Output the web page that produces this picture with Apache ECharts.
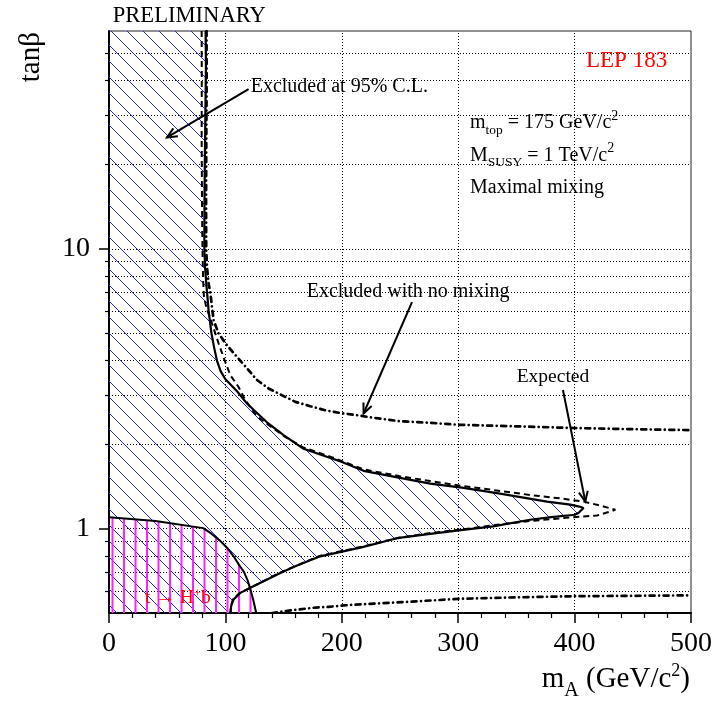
<!DOCTYPE html>
<html><head><meta charset="utf-8">
<script src="https://cdn.jsdelivr.net/npm/echarts@6/dist/echarts.min.js"></script>
<style>html,body{margin:0;padding:0;background:#fff}#c{width:718px;height:705px}</style>
</head><body><div id="c"></div><script>
// ---------- axes ----------
const X_MIN = 0, X_MAX = 500;
const Y_MIN = 0.5, Y_MAX = 60;
const xGrid = [100, 200, 300, 400];
const yMajor = [1, 10];
const yMinor = [0.6, 0.7, 0.8, 0.9, 2, 3, 4, 5, 6, 7, 8, 9, 20, 30, 40, 50];
const yGrid = [0.6, 0.7, 0.8, 0.9, 1, 2, 3, 4, 5, 6, 7, 8, 9, 10, 20, 30, 40, 50];

// ---------- curves (mA, tanβ) ----------
// observed 95% CL exclusion boundary (solid)
const observed = [[83.0,60],[83.3,45],[82.8,30],[82.3,20],[82.0,14],[81.9,10],[82.6,8.5],[83.6,7.5],[85.6,6.0],[88.0,5.0],[90.5,4.4],[93.0,3.95],[96.0,3.65],[100.0,3.42],[104.2,3.28],[110.0,3.10],[118.6,2.80],[124.2,2.66],[135.7,2.40],[150.0,2.16],[167.2,1.93],[190.2,1.79],[199,1.74],[218.7,1.61],[250,1.52],[276,1.45],[304.6,1.40],[333.3,1.34],[376.3,1.25],[396.3,1.22],[404,1.20],[407.7,1.186],[403.5,1.14],[400.3,1.122],[380,1.10],[361.7,1.077],[330,1.02],[304,0.99],[276,0.958],[247.4,0.925],[216,0.856],[207,0.84],[181.5,0.797],[160,0.735],[147.2,0.695],[132.8,0.649],[121.4,0.615],[112.8,0.590],[107.0,0.559],[105.0,0.53],[104.2,0.5]];
// expected exclusion (dashed)
const expected = [[79.6,60],[79.7,40],[79.6,25],[79.9,15],[80.3,10],[80.8,7.9],[81.5,6.8],[83.5,6.2],[88.5,5.41],[94.2,4.59],[99.3,4.0],[104.2,3.54],[111.3,3.21],[117.1,2.88],[127.1,2.52],[140,2.30],[152,2.12],[167,1.95],[190,1.81],[218.7,1.63],[250,1.54],[276,1.48],[304.6,1.42],[333,1.37],[361.9,1.32],[390,1.28],[407.7,1.25],[422,1.21],[435,1.169],[427,1.14],[419.2,1.115],[390.5,1.092],[361,1.065],[333.3,1.033],[304,0.995],[276,0.965],[247,0.925],[218.7,0.865],[181,0.80],[147,0.697],[121,0.614],[112,0.588],[106.5,0.56],[104.8,0.53],[104.5,0.5]];
// excluded with no mixing (dash-dot), upper and lower branches
const noMixUpper = [[83.8,60],[83.9,40],[83.6,25],[83.4,15],[83.5,10],[84.3,8.5],[85.6,7.5],[87.0,7.0],[88.5,6.19],[89.9,5.55],[94.2,4.98],[101.4,4.52],[110,4.11],[118.6,3.74],[127.1,3.40],[137.1,3.17],[148.6,3.00],[160.1,2.84],[172.9,2.74],[185.8,2.65],[198.7,2.59],[211.6,2.55],[224.5,2.50],[250.3,2.42],[276,2.39],[301.8,2.35],[353.4,2.32],[399.1,2.29],[445,2.27],[500,2.25]];
const noMixLower = [[140,0.5],[150,0.507],[162.9,0.515],[175.8,0.522],[188.7,0.526],[201.6,0.532],[215.9,0.537],[258.9,0.549],[301.8,0.562],[344.8,0.568],[399,0.574],[450,0.576],[500,0.578]];
// t -> H+ b excluded region boundary
const topDecay = [[0,1.10],[40,1.065],[81,1.005],[88,0.96],[95.6,0.905],[102,0.85],[107,0.797],[112,0.74],[116,0.70],[119,0.655],[121.4,0.61],[124,0.555],[126.5,0.5]];
// annotation arrows [x1,y1,x2,y2]
const arrows = [[119.9,37.2,49.8,25.0],[260.3,6.45,218.7,2.58],[390.0,3.13,409.2,1.251]];

// ---------- styles ----------
const FONT = '"Liberation Serif","Times New Roman",serif';
function hatchCanvas() {
  const n = 16, c = document.createElement('canvas'); c.width = n; c.height = n;
  const g = c.getContext('2d'); g.strokeStyle = '#2424ff'; g.lineWidth = 1;
  g.beginPath(); g.moveTo(-2,-2); g.lineTo(n+2,n+2); g.moveTo(-2,n-2); g.lineTo(2,n+2); g.moveTo(n-2,-2); g.lineTo(n+2,2); g.stroke();
  return c;
}
function vlineCanvas() {
  const c = document.createElement('canvas'); c.width = 23; c.height = 4;
  const g = c.getContext('2d'); g.fillStyle = '#ff22ff';
  g.fillRect(8, 0, 2, 4); g.fillRect(19.5, 0, 2, 4);
  return c;
}
const blueFill = { image: hatchCanvas(), repeat: 'repeat' };
const magFill = { image: vlineCanvas(), repeat: 'repeat' };

const blueRegion = [[X_MIN, Y_MAX]].concat(observed, [[X_MIN, Y_MIN]]);
const magRegion = topDecay.concat([[X_MIN, Y_MIN]]);

function polySeries(region, fill, z) {
  return { type: 'custom', coordinateSystem: 'cartesian2d', data: [[X_MIN, Y_MIN]], silent: true, z: z, clip: true,
    renderItem: (p, api) => ({ type: 'polygon', shape: { points: region.map(q => api.coord(q)) }, style: { fill: fill, stroke: null } }) };
}
function lineSeries(data, style, z) {
  return { type: 'line', data: data, symbol: 'none', smooth: false, silent: true, z: z, lineStyle: style, animation: false };
}

// ---------- text helpers ----------
const mctx = document.createElement('canvas').getContext('2d');
function pieces(x, base, parts, color, right) {
  const w = parts.map(p => { mctx.font = p[1] + 'px ' + FONT; return mctx.measureText(p[0]).width; });
  let cx = right ? x - w.reduce((a, b) => a + b, 0) : x;
  return parts.map((p, i) => {
    const el = { type: 'text', x: cx, y: base + (p[2] || 0) - 0.34 * p[1], z: 50,
      style: { text: p[0], fontSize: p[1], fontFamily: FONT, fill: color || '#000', align: 'left', verticalAlign: 'middle' } };
    cx += w[i]; return el;
  });
}
const graphics = [].concat(
  pieces(112.7, 23.3, [['PRELIMINARY', 22.6]]),
  pieces(586, 69, [['LEP 183', 23]], '#ff0000'),
  pieces(250.7, 93.3, [['Excluded at 95% C.L.', 20]]),
  pieces(470, 130, [['m', 20], ['top', 13.5, 5], [' = 175 GeV/c', 20], ['2', 14, -9]]),
  pieces(470, 162.5, [['M', 20], ['SUSY', 13.5, 5], [' = 1 TeV/c', 20], ['2', 14, -9]]),
  pieces(470, 195, [['Maximal mixing', 20]]),
  pieces(306.7, 298.3, [['Excluded with no mixing', 20]]),
  pieces(516.7, 383.3, [['Expected', 19.5]]),
  pieces(145, 605, [['t \u2192 H', 19.5], ['+', 13, -7], ['b', 19.5]], '#ff0000'),
  pieces(690, 689.3, [['m', 29], ['A', 20, 8], [' (GeV/c', 29], ['2', 18, -12], [')', 29]], '#000', true),
  [{ type: 'text', x: 31, y: 32, rotation: Math.PI / 2, z: 50,
     style: { text: 'tan\u03b2', fontSize: 29, fontFamily: FONT, fill: '#000', align: 'right', verticalAlign: 'middle' } }]
);

const chart = echarts.init(document.getElementById('c'), null, { renderer: 'canvas' });
chart.setOption({
  animation: false,
  backgroundColor: '#fff',
  grid: { left: 109, right: 27, top: 31, bottom: 92, show: true, borderColor: '#222', borderWidth: 1, backgroundColor: 'transparent' },
  xAxis: { type: 'value', min: X_MIN, max: X_MAX, interval: 100,
    axisLine: { show: true, onZero: false, lineStyle: { color: '#000', width: 2 } },
    axisTick: { show: true, length: 10, lineStyle: { color: '#000', width: 1.5 } },
    minorTick: { show: true, splitNumber: 5, length: 5, lineStyle: { color: '#000', width: 1.2 } },
    splitLine: { show: false },
    axisLabel: { fontFamily: FONT, fontSize: 28, color: '#000', margin: 17 } },
  yAxis: [
    { type: 'log', logBase: 10, min: Y_MIN, max: Y_MAX, position: 'left',
      axisLine: { show: true, onZero: false, lineStyle: { color: '#000', width: 2 } },
      axisTick: { show: true, length: 10, customValues: yMajor, lineStyle: { color: '#000', width: 1.5 } },
      axisLabel: { customValues: yMajor, fontFamily: FONT, fontSize: 28, color: '#000', margin: 19,
        formatter: v => (Math.abs(v - 1) < 1e-6 ? '1' : Math.abs(v - 10) < 1e-6 ? '10' : '') },
      splitLine: { show: false }, minorTick: { show: false } },
    { type: 'log', logBase: 10, min: Y_MIN, max: Y_MAX, position: 'left',
      axisLine: { show: false },
      axisTick: { show: true, length: 4, customValues: yMinor, lineStyle: { color: '#000', width: 1.2 } },
      axisLabel: { show: false }, splitLine: { show: false }, minorTick: { show: false } }
  ],
  graphic: graphics,
  series: [
    Object.assign(lineSeries([], { width: 0 }, 1), {
      markLine: { silent: true, z: 1, symbol: ['none', 'none'], label: { show: false }, animation: false,
        lineStyle: { type: [1, 2], color: '#000', width: 1 },
        data: yGrid.map(v => ({ yAxis: v })).concat(xGrid.map(v => ({ xAxis: v }))) } }),
    polySeries(blueRegion, blueFill, 2),
    polySeries(magRegion, magFill, 3),
    lineSeries(topDecay, { color: '#000', width: 2 }, 4),
    lineSeries(observed, { color: '#000', width: 2.2 }, 5),
    lineSeries(expected, { color: '#000', width: 2, type: [6, 4] }, 5),
    lineSeries(noMixUpper, { color: '#000', width: 2.7, type: [5, 4.5, 0.01, 4.5], cap: 'round' }, 5),
    lineSeries(noMixLower, { color: '#000', width: 2.7, type: [5, 4.5, 0.01, 4.5], cap: 'round' }, 5),
    { type: 'custom', coordinateSystem: 'cartesian2d', data: arrows, silent: true, z: 6, clip: false,
      encode: { x: [0, 2], y: [1, 3] },
      renderItem: (p, api) => {
        const a = api.coord([api.value(0), api.value(1)]), b = api.coord([api.value(2), api.value(3)]);
        const ang = Math.atan2(b[1] - a[1], b[0] - a[0]), L = 11, W = 0.42;
        const h1 = [b[0] - L * Math.cos(ang - W), b[1] - L * Math.sin(ang - W)];
        const h2 = [b[0] - L * Math.cos(ang + W), b[1] - L * Math.sin(ang + W)];
        return { type: 'group', children: [
          { type: 'line', shape: { x1: a[0], y1: a[1], x2: b[0], y2: b[1] }, style: { stroke: '#000', lineWidth: 2 } },
          { type: 'polyline', shape: { points: [h1, b, h2] }, style: { stroke: '#000', lineWidth: 2, fill: null } }] };
      } }
  ]
});
</script></body></html>
